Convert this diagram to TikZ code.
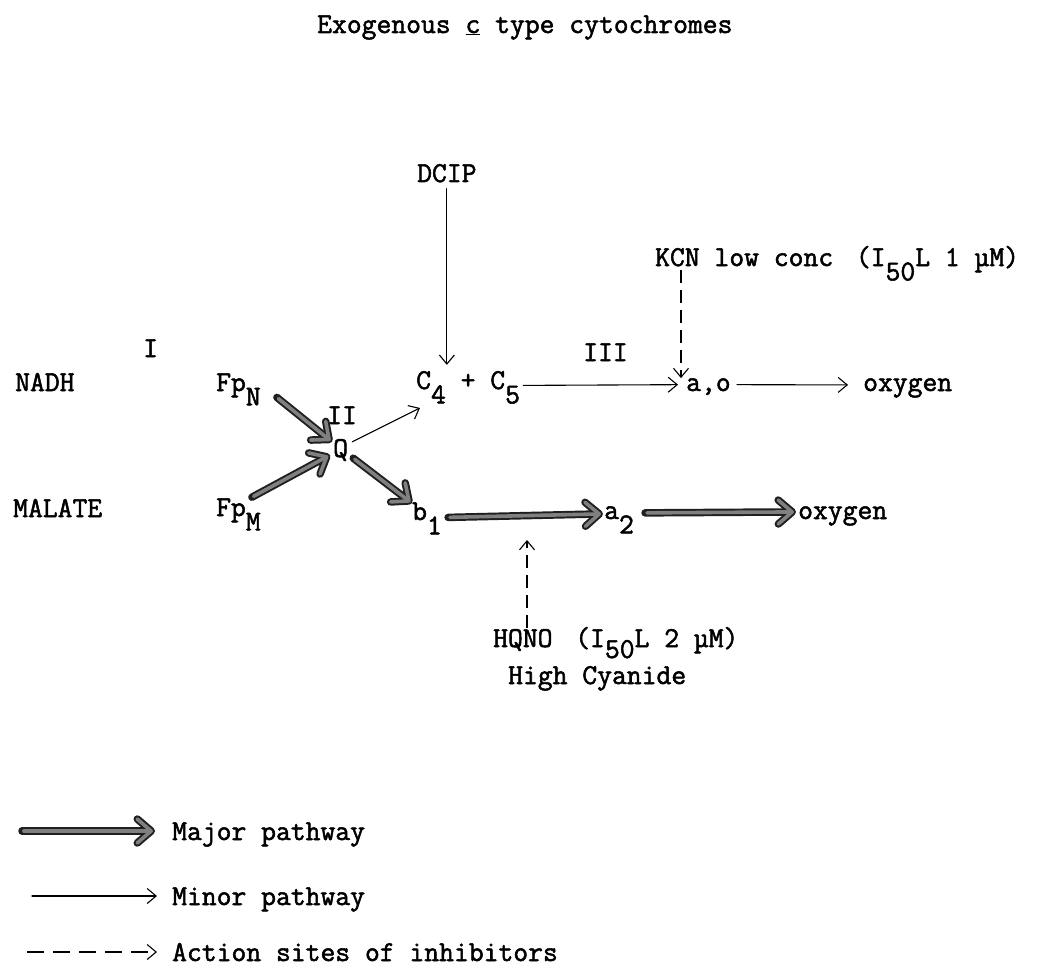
\documentclass[tikz,border=0pt]{standalone}
\usepackage{fontspec}
\newfontfamily\tw{Latin Modern Mono}[FakeBold=1.8]
\usetikzlibrary{arrows.meta,calc}
\newcommand\lo[1]{\raisebox{-0.5em}{#1}}
\newcommand\lob[1]{\raisebox{-0.38em}{#1}}
\newcommand\majorpath[2]{\draw[majorA] #1 -- #2; \draw[majorB] #1 -- #2;}
\tikzset{
  lbl/.style={font=\fontsize{28.8}{34}\selectfont\tw, inner sep=0pt, anchor=base west},
  minor/.style={line width=1.1pt, line cap=round, -{Straight Barb[length=9pt,width=15pt,line width=1.1pt]}},
  inhib/.style={minor, line cap=butt, dash pattern=on 13pt off 7pt},
  legdash/.style={minor, line cap=butt, dash pattern=on 17pt off 9pt},
  majorA/.style={line width=7.5pt, draw=black!88, line cap=round,
    -{Straight Barb[length=14pt,width=24pt,line width=7.5pt,round]}},
  majorB/.style={line width=3.6pt, draw=black!50, line cap=round, shorten >=2pt, shorten <=1.9pt,
    -{Straight Barb[length=14pt,width=24pt,line width=3.6pt,round]}},
}
\begin{document}
\begin{tikzpicture}[x=1pt,y=-1pt]
\useasboundingbox (0,0) rectangle (1037,971);
% texts
\node[lbl] (title) at (317,33) {Exogenous \underline{c} type cytochromes};
\node[lbl] (dcip) at (417,182) {DCIP};
\node[lbl] (kcn) at (655,266) {KCN low conc\hspace{0.79em}(I\lo{50}L 1 µM)};
\node[lbl] (one) at (143,357) {I};
\node[lbl] (three) at (583,361) {III};
\node[lbl] (nadh) at (15,391) {NADH};
\node[lbl] (fpn) at (216,391) {Fp\lo{N}};
\node[lbl] (two) at (327,424) {II};
\node[lbl] (q) at (333,457) {Q};
\node[lbl] (c45) at (416,389) {C\lo{4} + C\lo{5}};
\node[lbl] (ao) at (686,391) {a,o};
\node[lbl] (oxa) at (863,391) {oxygen};
\node[lbl] (malate) at (13,517) {MALATE};
\node[lbl] (fpm) at (216,516) {Fp\lo{M}};
\node[lbl] (b1) at (412,520) {b\lo{1}};
\node[lbl] (a2) at (604,519) {a\lo{2}};
\node[lbl] (oxb) at (798,519) {oxygen};
\node[lbl] (hqno) at (493,647) {HQNO\hspace{0.79em}(I\lob{50}L 2 µM)};
\node[lbl] (high) at (508,684) {High Cyanide};
\node[lbl] (lgmaj) at (172,840) {Major pathway};
\node[lbl] (lgmin) at (172,905) {Minor pathway};
\node[lbl] (lgact) at (172,961) {Action sites of inhibitors};
% minor pathways
\draw[minor] ($(dcip.south)+(0,6)$) -- ($(dcip.south |- c45.north)+(0,-6)$);
\draw[minor] ($(q.north east)+(4,3)$) -- ($(c45.south west)+(4,4)$);
\draw[minor] ($(c45.east)+(3,-2)$) -- ($(ao.west)+(-8,-2)$);
\draw[minor] ($(ao.east)+(6,-2)$) -- ($(oxa.west)+(-15,-3)$);
% major pathways
\majorpath{($(fpn.east)+(16,8)$)}{($(q.north west)+(-1,3)$)}
\majorpath{($(fpm.north east)+(-9,-1)$)}{($(q.west)+(-3,5)$)}
\majorpath{($(q.south east)+(5,-3)$)}{($(b1.north west)+(0,1)$)}
\majorpath{($(b1.east)+(6,-1)$)}{($(a2.west)+(-1,-6)$)}
\majorpath{($(a2.east)+(11,-7)$)}{($(oxb.west)+(-2,-4)$)}
% inhibitors
\draw[inhib] ($(kcn.base west)+(26,4)$) -- ($(ao.north west)+(-5,0)$);
\coordinate (hqtip) at (527,540);
\draw[inhib] ($(hqno.base west)+(34,-19)$) -- (hqtip);
% legend
\coordinate (lg1) at (22,831);
\coordinate (lg2) at (32,896);
\coordinate (lg3) at (27,952);
\majorpath{(lg1)}{($(lgmaj.base west)+(-17,-9)$)}
\draw[minor] (lg2) -- ($(lgmin.base west)+(-15,-9)$);
\draw[legdash] (lg3) -- ($(lgact.base west)+(-15,-9)$);
\end{tikzpicture}
\end{document}
